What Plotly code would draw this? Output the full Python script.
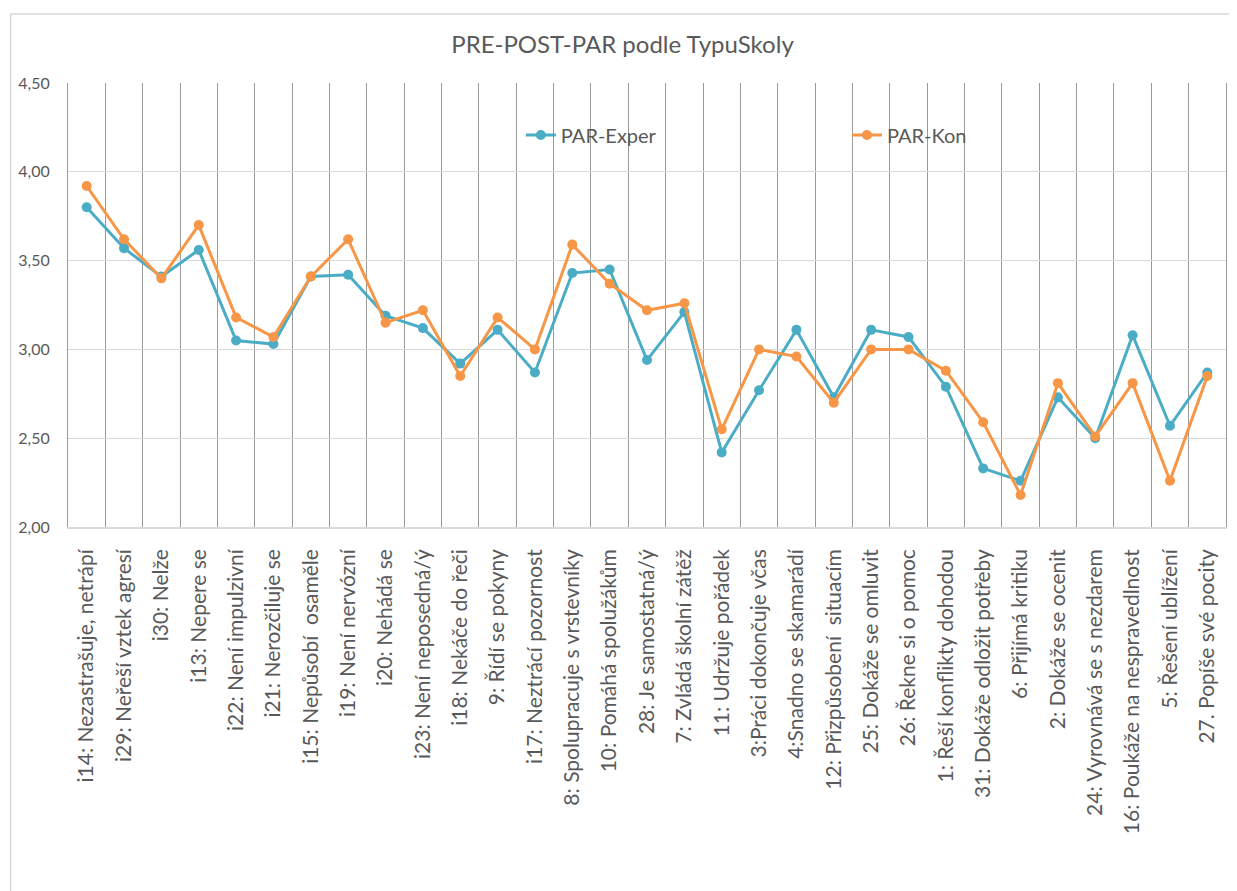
import plotly.graph_objects as go

categories = [
    "i14: Nezastrašuje, netrápí", "i29: Neřeší vztek agresí", "i30: Nelže", "i13: Nepere se",
    "i22: Není impulzivní", "i21: Nerozčiluje se", "i15: Nepůsobí  osaměle", "i19: Není nervózní",
    "i20: Nehádá se", "i23: Není neposedná/ý", "i18: Nekáče do řeči", "9: Řídí se pokyny",
    "i17: Neztrácí pozornost", "8: Spolupracuje s vrstevníky", "10: Pomáhá spolužákům",
    "28: Je samostatná/ý", "7: Zvládá školní zátěž", "11: Udržuje pořádek",
    "3:Práci dokončuje včas", "4:Snadno se skamarádí", "12: Přizpůsobení  situacím",
    "25: Dokáže se omluvit", "26: Řekne si o pomoc", "1: Řeší konflikty dohodou",
    "31: Dokáže odložit potřeby", "6: Přijímá kritiku", "2: Dokáže se ocenit",
    "24: Vyrovnává se s nezdarem", "16: Poukáže na nespravedlnost", "5: Řešení ublížení",
    "27. Popíše své pocity",
]
par_exper = [3.80, 3.57, 3.41, 3.56, 3.05, 3.03, 3.41, 3.42, 3.19, 3.12, 2.92, 3.11,
             2.87, 3.43, 3.45, 2.94, 3.21, 2.42, 2.77, 3.11, 2.73, 3.11, 3.07, 2.79,
             2.33, 2.26, 2.73, 2.50, 3.08, 2.57, 2.87]
par_kon = [3.92, 3.62, 3.40, 3.70, 3.18, 3.07, 3.41, 3.62, 3.15, 3.22, 2.85, 3.18,
           3.00, 3.59, 3.37, 3.22, 3.26, 2.55, 3.00, 2.96, 2.70, 3.00, 3.00, 2.88,
           2.59, 2.18, 2.81, 2.51, 2.81, 2.26, 2.85]
y_ticks = [2.0, 2.5, 3.0, 3.5, 4.0, 4.5]

BLUE = "#4BACC6"
ORANGE = "#F79646"
TEXT = "#595959"
FONT = "Lato"

fig = go.Figure()
fig.add_trace(go.Scatter(x=categories, y=par_exper, name="PAR-Exper", mode="lines+markers",
                         line=dict(color=BLUE, width=3), marker=dict(size=10, color=BLUE),
                         legend="legend", showlegend=True))
fig.add_trace(go.Scatter(x=categories, y=par_kon, name="PAR-Kon", mode="lines+markers",
                         line=dict(color=ORANGE, width=3), marker=dict(size=10, color=ORANGE),
                         legend="legend2", showlegend=True))

# page has an 8px body margin, so the figure is slightly smaller than the window
W, H = 1229, 883
L, R, T, B = 58, 10, 75, 364
pw, ph = W - L - R, H - T - B
leg_y = 1 - (127 - T) / ph

fig.update_layout(
    width=W, height=H,
    margin=dict(l=L, r=R, t=T, b=B),
    paper_bgcolor="white", plot_bgcolor="white",
    separators=",.",
    showlegend=True,
    font=dict(family=FONT, color=TEXT, size=15),
    title=dict(text="PRE-POST-PAR podle TypuSkoly", x=0.5, xanchor="center",
               y=1 - 37 / H, yanchor="middle", font=dict(size=24, color=TEXT, family=FONT)),
    xaxis=dict(type="category", tickson="boundaries", showgrid=True, gridcolor="#9a9a9a",
               gridwidth=1, tickangle=-90, ticks="", showline=True, linecolor="#d9d9d9",
               linewidth=1.5, tickfont=dict(size=21, color=TEXT, family=FONT),
               ticklabelstandoff=12,
               range=[-0.5, len(categories) - 0.5], zeroline=False),
    yaxis=dict(range=[2.0, 4.5], tickvals=y_ticks, tickformat=".2f", showgrid=True,
               gridcolor="#d9d9d9", gridwidth=1, zeroline=False, showline=True,
               linecolor="#9a9a9a", linewidth=1, mirror=True, ticklabelstandoff=14,
               tickfont=dict(size=16, color=TEXT, family=FONT), ticks=""),
    legend=dict(orientation="h", x=(512 - L) / pw, y=leg_y, xanchor="left",
                yanchor="middle", bgcolor="rgba(0,0,0,0)", font=dict(size=20, color=TEXT)),
    legend2=dict(orientation="h", x=(839 - L) / pw, y=leg_y, xanchor="left",
                 yanchor="middle", bgcolor="rgba(0,0,0,0)", font=dict(size=20, color=TEXT)),
)

# outer chart border
fig.add_shape(type="rect", xref="paper", yref="paper",
              x0=(0.5 - L) / pw, x1=(W + 20 - L) / pw,
              y0=-(B + 20) / ph, y1=1 + (T - 6) / ph,
              line=dict(color="#d9d9d9", width=1.5), layer="below")

fig.write_html("out.html")
